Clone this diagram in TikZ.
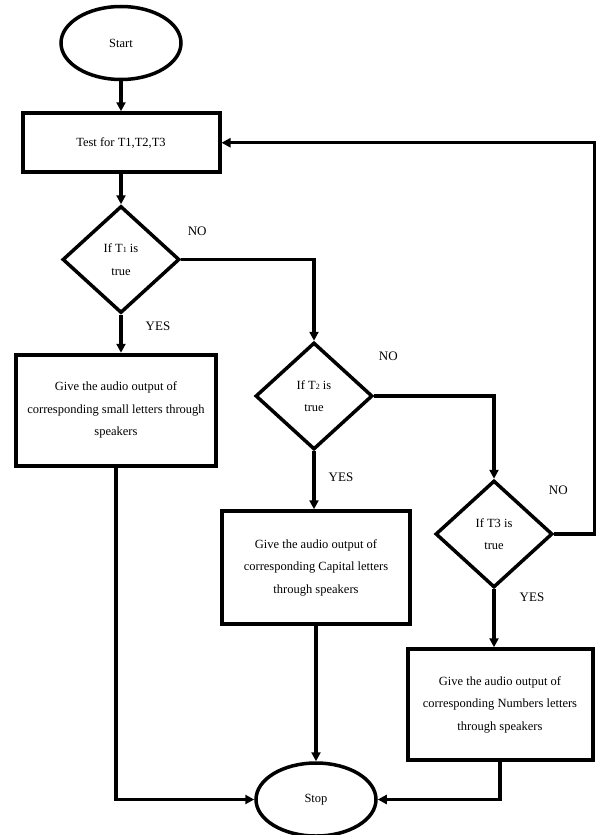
\documentclass[tikz,border=0pt]{standalone}
\usepackage{fontspec}
\setmainfont{Liberation Serif}
\usetikzlibrary{arrows.meta,positioning,shapes.geometric}

\begin{document}
\begin{tikzpicture}[x=1pt, y=-1pt,
  font=\fontsize{12.5}{22.5}\selectfont,
  term/.style={draw, ellipse, line width=3.5pt, inner sep=0pt,
               minimum width=120pt, minimum height=73pt},
  proc/.style={draw, line width=4pt, align=center, inner sep=0pt,
               minimum height=111pt},
  dec/.style={draw, diamond, line width=3.5pt, align=center, inner sep=0pt,
              minimum width=117pt, minimum height=107pt},
  lbl/.style={font=\fontsize{13}{14}\selectfont},
  arr/.style={line width=3.2pt, -{Triangle[length=9pt,width=9pt]}},
  node distance=30pt]
\useasboundingbox (0,0) rectangle (597,835);
\node[term] (start) at (121,43) {Start};
\node[proc, below=of start, minimum width=197pt, minimum height=59pt] (test) {Test for T1,T2,T3};
\node[dec, below=of test] (d1) {If T{\footnotesize 1} is\\true};
\node[proc, below=38pt of d1, xshift=-5pt, minimum width=200pt] (small)
  {Give the audio output of\\corresponding small letters through\\speakers};
\node[dec] (d2) at (314,396) {If T{\footnotesize 2} is\\true};
\node[proc, below=58pt of d2, xshift=2pt, minimum width=188pt, minimum height=113pt] (capital)
  {Give the audio output of\\corresponding Capital letters\\through speakers};
\node[dec] (d3) at (494,534) {If T3 is\\true};
\node[proc, below=58pt of d3, xshift=6pt, minimum width=185pt] (numbers)
  {Give the audio output of\\corresponding Numbers letters\\through speakers};
\node[term, below=135pt of capital] (stop) {Stop};
% yes / no labels
\node[lbl] (no1) at ([xshift=16pt,yshift=28pt]d1.east) {NO};
\node[lbl] (no2) at ([xshift=14pt,yshift=40pt]d2.east) {NO};
\node[lbl] (no3) at ([xshift=4pt,yshift=44pt]d3.east) {NO};
\node[lbl] (yes1) at ([xshift=37pt,yshift=-12pt]d1.south) {YES};
\node[lbl] (yes2) at ([xshift=27pt,yshift=-26pt]d2.south) {YES};
\node[lbl] (yes3) at ([xshift=38pt,yshift=-8pt]d3.south) {YES};
% connectors
\foreach \a/\b in {start/test,test/d1,d1/small,d2/capital,d3/numbers,capital/stop}
  \draw[arr] (\a.south) -- (\a.south |- \b.north);
\draw[arr] (d1.east) -| (d2.north);
\draw[arr] (d2.east) -| (d3.north);
\draw[arr] (d3.east) -- ++(40,0) |- (test.east);
\draw[arr] (small.south) |- (stop.west);
\draw[arr] (numbers.south) |- (stop.east);
\end{tikzpicture}
\end{document}
